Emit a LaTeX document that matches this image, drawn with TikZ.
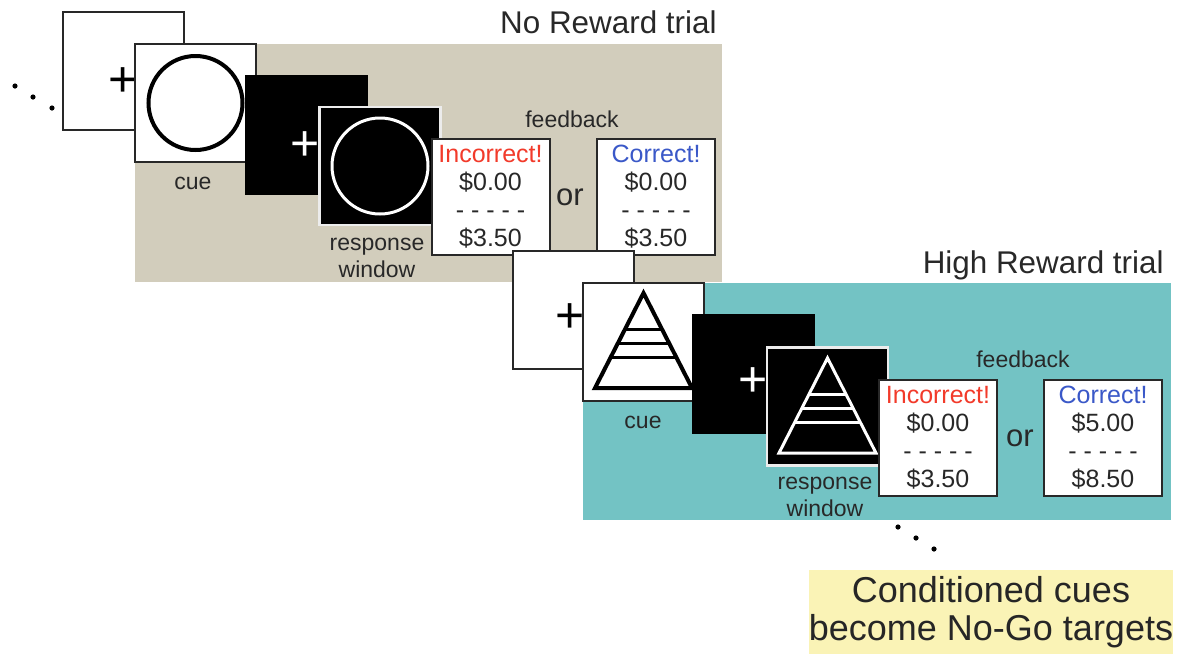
\documentclass[tikz,border=0pt]{standalone}
\usepackage{fontspec}
\setmainfont{Liberation Sans}
\usetikzlibrary{positioning}
\definecolor{tanbg}{RGB}{210,205,188}
\definecolor{tealbg}{RGB}{115,195,196}
\definecolor{notebg}{RGB}{250,243,182}
\definecolor{wrongred}{RGB}{242,58,42}
\definecolor{rightblue}{RGB}{58,88,200}
\definecolor{ink}{RGB}{40,40,40}
\tikzset{
x=0.5pt, y=-0.5pt, % one unit is one pixel of the layout, y runs down
screen/.style={rectangle, draw=ink, line width=1pt, fill=white, minimum width=60.5pt, minimum height=59pt, inner sep=0pt}, % white display
gapscreen/.style={screen, draw=black, fill=black}, % blank black display
respscreen/.style={screen, draw=gray!15, line width=1.1pt, fill=black}, % response display
fbbox/.style={screen, minimum width=59pt, minimum height=58pt, align=center, text=ink, font=\fontsize{12.5}{14}\selectfont}, % feedback card
tag/.style={text=ink, font=\fontsize{11.5}{13.5}\selectfont, align=center, inner sep=0pt}, % small captions
orword/.style={text=ink, font=\fontsize{15.5}{18}\selectfont, inner sep=0pt},
heading/.style={text=ink, font=\fontsize{15.7}{18}\selectfont, inner sep=0pt},
cross/.style={font=\fontsize{25}{25}\selectfont, inner sep=0pt}, % fixation cross
notebox/.style={fill=notebg, minimum width=179pt, minimum height=42pt, align=center, inner sep=0pt, font=\fontsize{18}{19}\selectfont, text=black!85},
}

\begin{document}
\begin{tikzpicture}
    \useasboundingbox (0,0) rectangle (1183,654);

    % No Reward trial
    \fill[tanbg] (135,44) rectangle (722,282);
    \node[heading, anchor=base east] (titleA) at (717,33) {No Reward trial};
    \fill (15,86) circle (1.3pt) (33,97) circle (1.3pt) (52,108) circle (1.3pt);

    \node[screen] (fixA) at (123,70.5) {};
    \node[cross] (plusA) at (123,82) {+};
    \node[screen] (cueA) at (195.5,103) {};
    \draw[line width=2pt] (cueA.center) circle (23.5pt);
    \node[tag] (cueAtext) at (193,183) {cue};
    \node[gapscreen] (gapA) at (306,134.5) {};
    \node[cross, text=white] (plusA2) at (305,146) {+};
    \node[respscreen] (respA) at (380,166) {};
    \draw[white, line width=1.5pt] (respA.center) circle (24pt);
    \node[tag] (respAtext) at (377,258) {response\\window};

    \node[tag] (fbAtext) at (572,119) {feedback};
    \node[fbbox] (wrongA) at (490.5,196.5) {\textcolor{wrongred}{Incorrect!}\\\$0.00\\- - - - -\\\$3.50};
    \node[orword] (orA) at (570,197) {or};
    \node[fbbox] (rightA) at (656,197) {\textcolor{rightblue}{Correct!}\\\$0.00\\- - - - -\\\$3.50};

    % High Reward trial
    \fill[tealbg] (583,283) rectangle (1171,520);
    \node[heading, anchor=base east] (titleB) at (1164,273) {High Reward trial};

    \node[screen] (fixB) at (573,309.5) {};
    \node[cross] (plusB) at (570,318) {+};
    \node[screen] (cueB) at (643.5,341.5) {};
    \draw[line width=2pt, shift={(cueB.center)}]
    (0,-48.5) -- (-48.5,46.5) -- (48.5,46.5) -- cycle;
    \draw[line width=1.5pt, shift={(cueB.center)}]
    (-18.4,-12.5) -- (18.4,-12.5)
    (-25.5,1.5) -- (25.5,1.5)
    (-32.9,16) -- (32.9,16);
    \node[tag] (cueBtext) at (643,422) {cue};
    \node[gapscreen] (gapB) at (753.5,373.5) {};
    \node[cross, text=white] (plusB2) at (753,382) {+};
    \node[respscreen] (respB) at (827.5,406.5) {};
    \draw[white, line width=1.5pt, shift={(respB.center)}]
    (0,-48.5) -- (-48.5,46.5) -- (48.5,46.5) -- cycle;
    \draw[white, line width=1.5pt, shift={(respB.center)}]
    (-18.4,-12.5) -- (18.4,-12.5)
    (-25.5,1.5) -- (25.5,1.5)
    (-32.9,16) -- (32.9,16);
    \node[tag] (respBtext) at (825,497) {response\\window};

    \node[tag] (fbBtext) at (1023,359) {feedback};
    \node[fbbox] (wrongB) at (938,438) {\textcolor{wrongred}{Incorrect!}\\\$0.00\\- - - - -\\\$3.50};
    \node[orword] (orB) at (1020,438) {or};
    \node[fbbox] (rightB) at (1103,438) {\textcolor{rightblue}{Correct!}\\\$5.00\\- - - - -\\\$8.50};

    \fill (898,527) circle (1.3pt) (916,538) circle (1.3pt) (934,549) circle (1.3pt);
    \node[notebox] (note) at (991,612) {Conditioned cues\\become No-Go targets};

  \end{tikzpicture}
\end{document}
